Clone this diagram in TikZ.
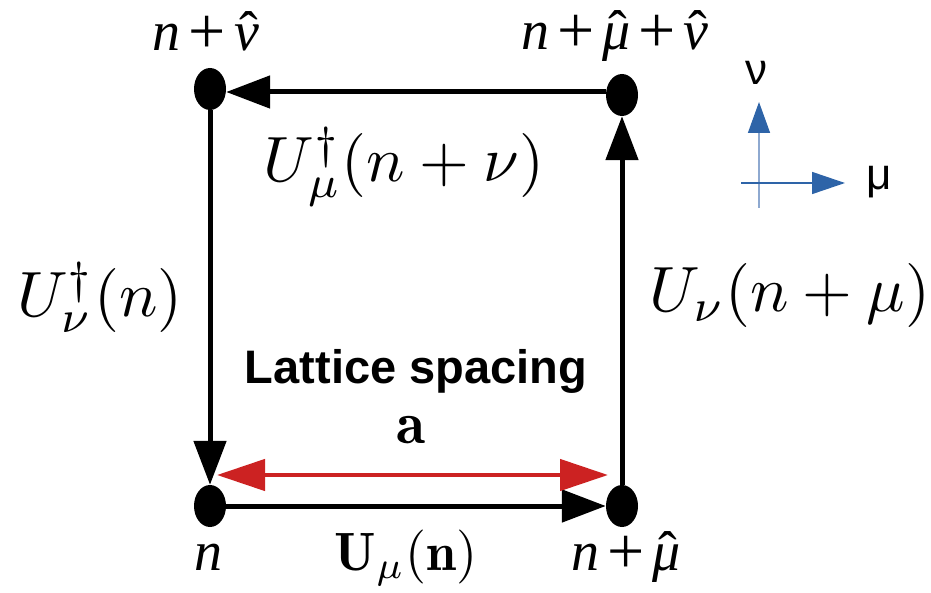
\documentclass[tikz,border=0pt]{standalone}
\usepackage{fontspec}
\usepackage{graphicx}
\usetikzlibrary{arrows.meta,shapes.geometric}
\newfontfamily\timesfont{Liberation Serif}
\newfontfamily\arialfont{Liberation Sans}
\definecolor{latred}{HTML}{CC2222}
\definecolor{axisblue}{HTML}{2E64A8}
\definecolor{axislight}{HTML}{8EA9D0}
\newcommand\hatit[2][0pt]{\ooalign{#2\cr\hidewidth\kern#1{\upshape\char"02C6}\hidewidth\cr}}
\newcommand\bigplus{\kern8pt\raisebox{-3pt}{\fontsize{66}{66}\selectfont\upshape +}\kern8pt}
\tikzset{
  dot/.style={ellipse, fill=black, draw=none, minimum width=32pt, minimum height=42pt, inner sep=0pt},
  link/.style={line width=5pt, -{Triangle[length=44pt,width=32pt]}},
  redarrow/.style={line width=4.5pt, draw=latred, {Triangle[length=48pt,width=31pt]}-{Triangle[length=48pt,width=31pt]}},
  cornerlabel/.style={anchor=base, inner sep=0pt, font=\fontsize{56}{60}\selectfont\timesfont},
  mathlabel/.style={anchor=base, inner sep=0pt},
  sanslabel/.style={anchor=base, inner sep=0pt, font=\fontsize{47}{50}\selectfont\arialfont\bfseries},
  axislabel/.style={anchor=base, inner sep=0pt, font=\fontsize{44}{46}\selectfont\arialfont},
}
\begin{document}
\begin{tikzpicture}[x=1pt,y=-1pt]
\useasboundingbox (0,0) rectangle (931,593);
% lattice sites
\node[dot] (TL) at (210,89) {};
\node[dot] (TR) at (622,95) {};
\node[dot] (BL) at (210,506) {};
\node[dot] (BR) at (622,506) {};
% links
\draw[link] ([yshift=3pt]TR.west) -- ([yshift=-3pt]TL.east);
\draw[link] (TL) -- (BL);
\draw[link] (BL) -- (BR);
\draw[link] (BR) -- (TR);
% lattice spacing arrow
\coordinate (rl) at (217,475);
\coordinate (rr) at (608,475);
\draw[redarrow] (rl) -- (rr);
% axes
\coordinate (vb) at (759,208);
\coordinate (vt) at (759,102);
\coordinate (hl) at (741,183);
\coordinate (hr) at (845,183);
\draw[draw=axislight, line width=1.5pt, -{Triangle[length=31pt,width=22pt,color=axisblue]}] (vb) -- (vt);
\draw[draw=axisblue, line width=1.5pt, -{Triangle[length=33pt,width=22pt,color=axisblue]}] (hl) -- (hr);
\node[axislabel] (nulab) at (756,85) {ν};
\node[axislabel] (mulab) at (879,190) {μ};
% corner labels
\node[cornerlabel] (lTL) at (206,51) {\itshape n\bigplus\hatit[4pt]{ν}};
\node[cornerlabel] (lTR) at (615,50) {\itshape n\bigplus\hatit[2pt]{μ}\bigplus\hatit[4pt]{ν}};
\node[cornerlabel] (lBL) at (208,570) {\itshape n};
\node[cornerlabel] (lBR) at (626,570) {\itshape n\bigplus\hatit[2pt]{μ}};
% link labels
\node[mathlabel] (ltop) at (404,182) {\scalebox{6.4}{$U^\dagger_\mu(n+\nu)$}};
\node[mathlabel] (lleft) at (100,317) {\scalebox{6.4}{$U^\dagger_\nu(n)$}};
\node[mathlabel] (lright) at (790,312) {\scalebox{6.4}{$U_\nu(n+\mu)$}};
\node[mathlabel] (lbot) at (406,570) {\scalebox{5.4}{$\mathbf{U}_\mu(\mathbf{n})$}};
% spacing labels
\node[sanslabel] (lspace) at (416,383) {Lattice spacing};
\node[mathlabel] (la) at (411,443) {\scalebox{6.0}{$\mathbf{a}$}};
\end{tikzpicture}
\end{document}
